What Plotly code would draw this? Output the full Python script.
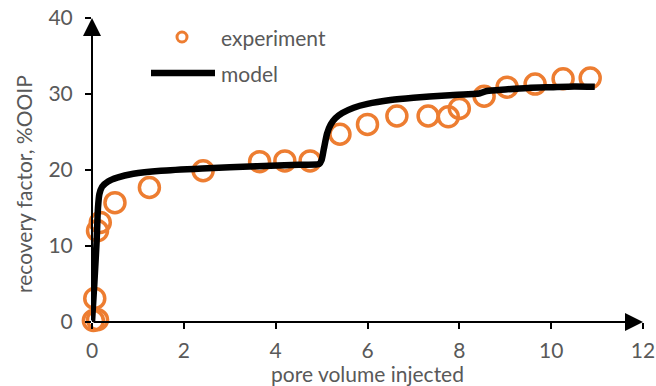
import plotly.graph_objects as go

# Experimental recovery measurements
exp_pv = [0.03, 0.12, 0.06, 0.12, 0.18, 0.5, 1.25, 2.42, 3.65, 4.2, 4.75,
          5.4, 6.0, 6.64, 7.32, 7.76, 8.0, 8.54, 9.04, 9.65, 10.26, 10.85]
exp_rf = [0.2, 0.3, 3.1, 12.0, 13.1, 15.7, 17.7, 19.9, 21.1, 21.2, 21.2,
          24.7, 26.0, 27.1, 27.1, 27.0, 28.1, 29.7, 30.9, 31.3, 32.0, 32.1]

# Model prediction
model_pv = [0.0, 0.05, 0.1, 0.13, 0.16, 0.22, 0.35, 0.55, 0.9, 1.5, 2.4, 3.6,
            4.5, 4.95, 5.0, 5.05, 5.12, 5.2, 5.3, 5.45, 5.7, 6.0, 6.5, 7.0,
            7.7, 8.3, 8.45, 8.6, 9.0, 9.5, 10.0, 10.5, 10.95]
model_rf = [0.0, 5.0, 10.5, 15.0, 16.8, 17.8, 18.5, 19.0, 19.5, 19.9, 20.2, 20.5,
            20.7, 20.8, 21.3, 22.8, 24.8, 26.0, 26.8, 27.5, 28.2, 28.7, 29.2, 29.5,
            29.8, 30.0, 30.1, 30.4, 30.6, 30.8, 30.9, 31.0, 30.95]

x_ticks = [0, 2, 4, 6, 8, 10, 12]
y_ticks = [0, 10, 20, 30, 40]

ORANGE = "#ED7D31"
GREY = "#595959"
FONT = "Lato"
FS = 21

# Plot area in pixels
L, R, T, B = 92, 643, 18, 322
PW, PH = R - L, B - T

fig = go.Figure()

fig.add_trace(go.Scatter(
    x=exp_pv, y=exp_rf, mode="markers", name="experiment",
    marker=dict(symbol="circle-open", size=20, color=ORANGE,
                line=dict(color=ORANGE, width=3.5)),
    cliponaxis=False, showlegend=False,
))
fig.add_trace(go.Scatter(
    x=model_pv, y=model_rf, mode="lines", name="model",
    line=dict(color="black", width=6.5, shape="spline", smoothing=0.6),
    cliponaxis=False, showlegend=False,
))

# Axis lines with arrowheads
arrow = dict(showarrow=True, arrowhead=2, arrowsize=1.8, arrowwidth=2,
             arrowcolor="black", axref="x", ayref="y", xref="x", yref="y",
             ax=0, ay=0, text="")
fig.add_annotation(x=0, y=40, **arrow)
fig.add_annotation(x=12, y=0, **arrow)


def px(xp):
    return (xp - L) / PW


def py(yp):
    return (B - yp) / PH


# Hand-drawn legend
fig.add_shape(type="circle", xref="paper", yref="paper",
              x0=px(177), x1=px(187), y0=py(42), y1=py(32),
              line=dict(color=ORANGE, width=3))
fig.add_shape(type="line", xref="paper", yref="paper",
              x0=px(151), x1=px(215), y0=py(73), y1=py(73),
              line=dict(color="black", width=6.5))
for label, ypx in [("experiment", 37), ("model", 73)]:
    fig.add_annotation(text=label, xref="paper", yref="paper",
                       x=px(219), y=py(ypx),
                       xanchor="left", yanchor="middle", showarrow=False,
                       font=dict(family=FONT, size=FS, color=GREY))

# Vertical axis title
fig.add_annotation(text="recovery factor, %OOIP", xref="paper", yref="paper",
                   x=px(23), y=py(184), textangle=-90,
                   xanchor="center", yanchor="middle", showarrow=False,
                   font=dict(family=FONT, size=FS, color=GREY))

fig.update_layout(
    width=656, height=386,
    margin=dict(l=L, r=656 - R, t=T, b=386 - B),
    paper_bgcolor="white", plot_bgcolor="white",
    font=dict(family=FONT, size=FS, color=GREY),
    xaxis=dict(range=[0, 12], tickvals=x_ticks, showgrid=False, zeroline=False,
               showline=False, ticks="outside", ticklen=6, tickwidth=2,
               tickcolor="black", ticklabelstandoff=4, automargin=False,
               title=dict(text="pore volume injected", standoff=0,
                          font=dict(family=FONT, size=FS, color=GREY))),
    yaxis=dict(range=[0, 40], tickvals=y_ticks, showgrid=False, zeroline=False,
               showline=False, ticks="outside", ticklen=6, tickwidth=2,
               tickcolor="black", ticklabelstandoff=8, automargin=False),
)

fig.write_html("out.html")
